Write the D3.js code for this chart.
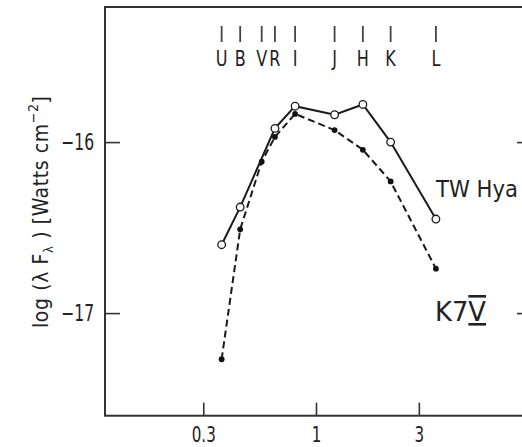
<!DOCTYPE html>
<html><head><meta charset="utf-8">
<script src="https://cdn.jsdelivr.net/npm/d3@7"></script>
<style>html,body{margin:0;padding:0;background:#fff;overflow:hidden}</style>
</head><body><svg id="c" width="522" height="447"></svg>
<script>
// ---- data ----
const bands = ["U", "B", "V", "R", "I", "J", "H", "K", "L"];
const bandWavelengths = [0.365, 0.445, 0.56, 0.645, 0.80, 1.22, 1.65, 2.22, 3.6];
const twHyaBands = ["U", "B", "R", "I", "J", "H", "K", "L"];
const twHyaValues = [-16.60, -16.38, -15.92, -15.79, -15.84, -15.78, -16.00, -16.45];
const k7vBands = ["U", "B", "V", "R", "I", "J", "H", "K", "L"];
const k7vValues = [-17.27, -16.51, -16.115, -15.97, -15.835, -15.93, -16.045, -16.23, -16.74];
const xTicks = [0.3, 1, 3];
const xTickLabels = ["0.3", "1", "3"];
const yTicks = [-16, -17];
const yTickLabels = ["\u221216", "\u221217"];
const xDomain = [0.105, 10.05];
const yDomain = [-17.6, -15.21];

// ---- layout ----
const L = 105, R = 532, T = 7, B = 415.7;
const FONT = "'DejaVu Sans Condensed','DejaVu Sans',sans-serif";
const ink = "#222";

// horizontally condense text (keeps it as real text)
function condense(sel, f) {
  sel.each(function () {
    const w = this.getComputedTextLength();
    d3.select(this).attr("textLength", w * f).attr("lengthAdjust", "spacingAndGlyphs");
  });
}

const svg = d3.select("#c");
const x = d3.scaleLog().domain(xDomain).range([L, R]);
const y = d3.scaleLinear().domain(yDomain).range([B, T]);
const wl = b => bandWavelengths[bands.indexOf(b)];

// frame
svg.append("rect").attr("x", L).attr("y", T).attr("width", R - L).attr("height", B - T)
  .attr("fill", "none").attr("stroke", "#333").attr("stroke-width", 2);

// left axis
const yl = svg.append("g").attr("transform", `translate(${L},0)`)
  .call(d3.axisLeft(y).tickValues(yTicks).tickSize(-15).tickPadding(11)
    .tickFormat((d, i) => yTickLabels[i]));
yl.select(".domain").remove();
yl.selectAll("line").attr("stroke", "#333").attr("stroke-width", 1.6);
yl.selectAll("text").attr("font-family", FONT).attr("font-size", 23).attr("fill", ink)
  .call(condense, 0.75);

// right axis (ticks only)
const yr = svg.append("g").attr("transform", `translate(${R},0)`)
  .call(d3.axisRight(y).tickValues(yTicks).tickSize(-15).tickFormat(""));
yr.select(".domain").remove();
yr.selectAll("line").attr("stroke", "#333").attr("stroke-width", 1.6);

// bottom axis
const xb = svg.append("g").attr("transform", `translate(0,${B})`)
  .call(d3.axisBottom(x).tickValues(xTicks).tickSize(-13).tickPadding(13)
    .tickFormat((d, i) => xTickLabels[i]));
xb.select(".domain").remove();
xb.selectAll("line").attr("stroke", "#333").attr("stroke-width", 1.6);
xb.selectAll("text").attr("font-family", FONT).attr("font-size", 21).attr("fill", ink)
  .attr("dy", "0.64em")
  .call(condense, 0.8);

// band markers at top
const bandG = svg.append("g");
bandG.selectAll("line").data(bands).join("line")
  .attr("x1", d => x(wl(d))).attr("x2", d => x(wl(d)))
  .attr("y1", 26).attr("y2", 42)
  .attr("stroke", "#444").attr("stroke-width", 1.8);
bandG.selectAll("text").data(bands).join("text")
  .attr("x", d => x(wl(d))).attr("y", 66)
  .attr("text-anchor", "middle")
  .attr("font-family", FONT).attr("font-size", 21).attr("fill", ink)
  .text(d => d)
  .call(condense, 0.85);

// series
const twPts = twHyaBands.map((b, i) => [wl(b), twHyaValues[i]]);
const k7Pts = k7vBands.map((b, i) => [wl(b), k7vValues[i]]);
const line = d3.line().x(d => x(d[0])).y(d => y(d[1]));

svg.append("path").attr("d", line(k7Pts)).attr("fill", "none")
  .attr("stroke", "#1a1a1a").attr("stroke-width", 2).attr("stroke-dasharray", "7,4");
svg.append("path").attr("d", line(twPts)).attr("fill", "none")
  .attr("stroke", "#1a1a1a").attr("stroke-width", 2);

svg.append("g").selectAll("circle").data(twPts).join("circle")
  .attr("cx", d => x(d[0])).attr("cy", d => y(d[1])).attr("r", 3.8)
  .attr("fill", "#fff").attr("stroke", "#1a1a1a").attr("stroke-width", 1.3);
svg.append("g").selectAll("circle").data(k7Pts).join("circle")
  .attr("cx", d => x(d[0])).attr("cy", d => y(d[1])).attr("r", 2.9)
  .attr("fill", "#111");

// series labels
svg.append("text").attr("x", 436).attr("y", 197)
  .attr("font-family", FONT).attr("font-size", 23.5).attr("fill", ink)
  .text("TW Hya");
const k7 = svg.append("text").attr("x", 435).attr("y", 321)
  .attr("font-family", FONT).attr("font-size", 26).attr("fill", ink)
  .attr("textLength", 51).attr("lengthAdjust", "spacingAndGlyphs");
k7.append("tspan").text("K7");
k7.append("tspan").attr("text-decoration", "underline overline").text("V");

// y axis title
const yt = svg.append("text")
  .attr("transform", "translate(48,212) rotate(-90)")
  .attr("text-anchor", "middle")
  .attr("font-family", FONT)
  .attr("font-size", 21).attr("fill", ink);
yt.append("tspan").text("log (\u03BB F");
yt.append("tspan").attr("font-size", 13).attr("dy", 5).text("\u03BB");
yt.append("tspan").attr("dy", -5).text(" ) [Watts  cm");
yt.append("tspan").attr("font-size", 14).attr("dy", -10).text("\u22122");
yt.append("tspan").attr("dy", 10).text("]");
yt.attr("textLength", 232).attr("lengthAdjust", "spacing");
</script></body></html>
